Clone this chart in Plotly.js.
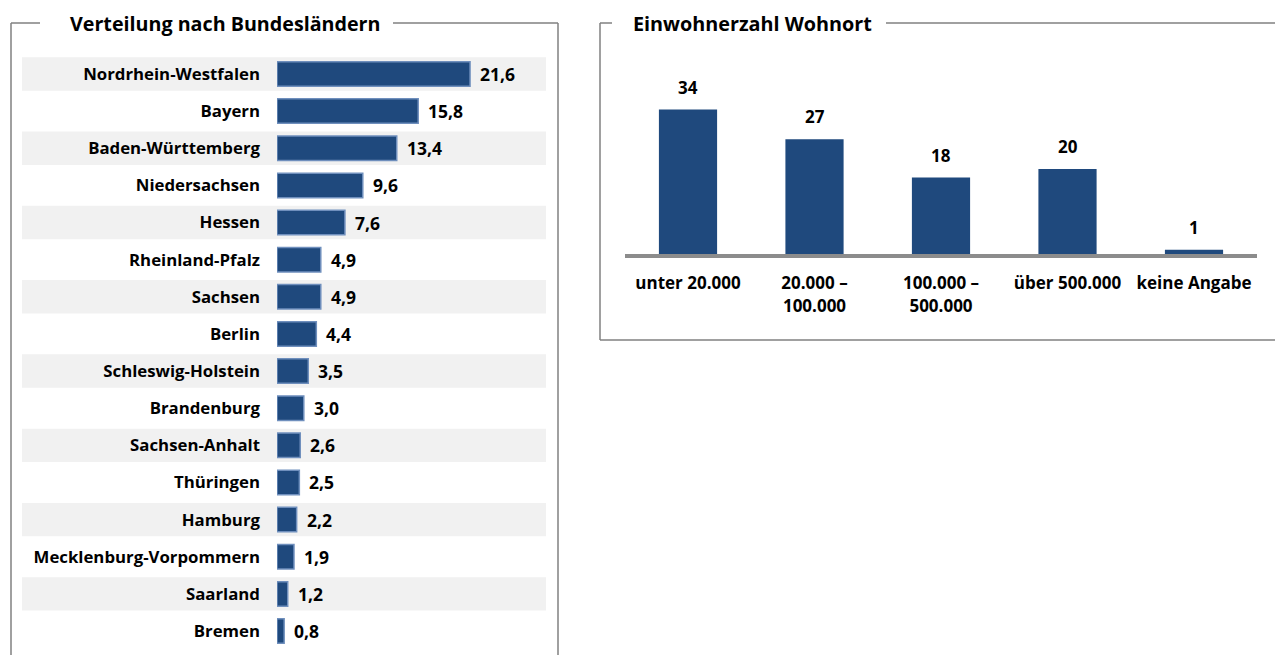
<!DOCTYPE html>
<html><head><meta charset="utf-8">
<script src="https://cdn.plot.ly/plotly-3.0.1.min.js"></script>
<style>html,body{margin:0;padding:0;background:#fff}#chart{width:1275px;height:655px}</style>
</head><body><div id="chart"></div>
<script>
const states = ['Nordrhein-Westfalen','Bayern','Baden-Württemberg','Niedersachsen','Hessen','Rheinland-Pfalz','Sachsen','Berlin','Schleswig-Holstein','Brandenburg','Sachsen-Anhalt','Thüringen','Hamburg','Mecklenburg-Vorpommern','Saarland','Bremen'];
const stateShares = [21.6,15.8,13.4,9.6,7.6,4.9,4.9,4.4,3.5,3.0,2.6,2.5,2.2,1.9,1.2,0.8];
const sizeCategories = ['unter 20.000','20.000 –<br>100.000','100.000 –<br>500.000','über 500.000','keine Angabe'];
const sizeShares = [34,27,18,20,1];
const leftTitle = 'Verteilung nach Bundesländern';
const rightTitle = 'Einwohnerzahl Wohnort';

const W = 1275, H = 655;
const px = x => x / W, py = y => 1 - y / H;
const FONT = 'Open Sans, Liberation Sans, sans-serif';
const BLUE = '#1f497d';
const GRAY = '#808080';

const traces = [
  {type:'bar', orientation:'h', x: stateShares, y: states, xaxis:'x', yaxis:'y',
   width:0.66, marker:{color:BLUE, line:{color:'#6f8fbd', width:1.5}}, hoverinfo:'skip'},
  {type:'bar', x: sizeCategories, y: sizeShares, xaxis:'x2', yaxis:'y2',
   width:0.46, marker:{color:BLUE}, hoverinfo:'skip'}
];

const shapes = [];
states.forEach((s, i) => {
  if (i % 2 === 0) shapes.push({type:'rect', layer:'below', xref:'paper', yref:'y',
    x0:px(22), x1:px(546), y0:i-0.45, y1:i+0.45, fillcolor:'#f1f1f1', line:{width:0}});
});
function seg(x0,y0,x1,y1){ shapes.push({type:'line', xref:'paper', yref:'paper',
  x0:px(x0), y0:py(y0), x1:px(x1), y1:py(y1), line:{color:GRAY, width:1.5}}); }
seg(11,23,11,660); seg(11,23,40,23); seg(393,23,558,23); seg(558,23,558,660);
seg(600,23,600,340); seg(600,23,612,23); seg(886,23,1280,23); seg(600,340,1280,340);

const annotations = [
  {xref:'paper', yref:'paper', x:px(68), y:py(23), xanchor:'left', yanchor:'middle', showarrow:false,
   text:leftTitle, font:{family:FONT, size:19.7, color:'#000', weight:'bold'}},
  {xref:'paper', yref:'paper', x:px(631), y:py(23), xanchor:'left', yanchor:'middle', showarrow:false,
   text:rightTitle, font:{family:FONT, size:19.8, color:'#000', weight:'bold'}}
];
stateShares.forEach((v, i) => annotations.push({xref:'x', yref:'y', x:v, y:states[i],
  xanchor:'left', yanchor:'middle', xshift:8, showarrow:false,
  text: v.toFixed(1).replace('.', ','), font:{family:FONT, size:17.5, color:'#000', weight:'bold'}}));
sizeShares.forEach((v, i) => annotations.push({xref:'x2', yref:'y2', x:sizeCategories[i], y:v,
  xanchor:'center', yanchor:'bottom', yshift:9, showarrow:false,
  text: String(v), font:{family:FONT, size:17, color:'#000', weight:'bold'}}));

const layout = {
  width: W, height: H, margin:{l:0, r:0, t:0, b:0},
  paper_bgcolor:'#fff', plot_bgcolor:'rgba(0,0,0,0)', showlegend:false,
  font:{family:FONT, color:'#000'},
  xaxis:{domain:[px(277), px(546)], range:[0, 30.1], visible:false, fixedrange:true},
  yaxis:{domain:[py(649.6), py(55.4)], type:'category', categoryorder:'array', categoryarray:states,
    autorange:'reversed', showgrid:false, zeroline:false, showline:false, ticks:'',
    ticklabelstandoff:16, tickfont:{family:FONT, size:16.8, color:'#000', weight:'bold'}},
  xaxis2:{domain:[px(624.75), px(1257.25)], anchor:'y2', type:'category', showgrid:false,
    showline:true, linecolor:'#8c8c8c', linewidth:4, ticks:'', ticklabelstandoff:11,
    tickfont:{family:FONT, size:17, color:'#000', weight:'bold'}},
  yaxis2:{domain:[py(254), py(84)], anchor:'x2', range:[0, 40], visible:false},
  shapes, annotations
};
Plotly.newPlot('chart', traces, layout, {displayModeBar:false, staticPlot:true});
</script></body></html>
